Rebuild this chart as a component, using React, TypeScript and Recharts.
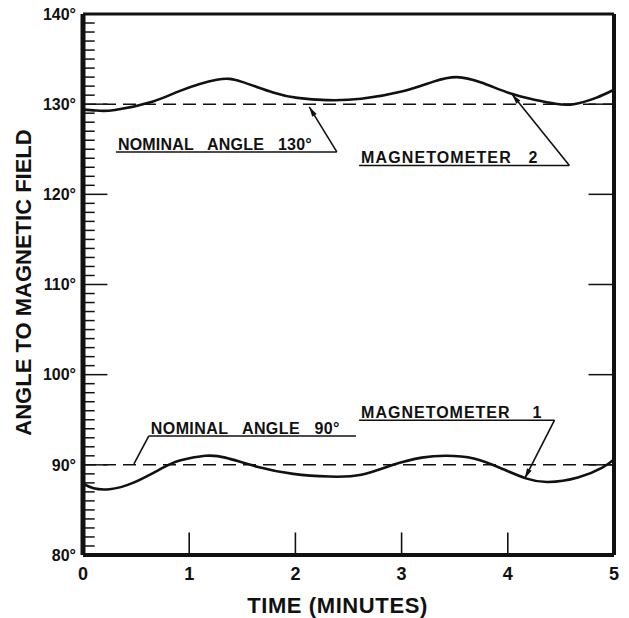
import { LineChart, Line, XAxis, YAxis, ReferenceLine, Label } from 'recharts'

// time in minutes, angle in degrees
const mag2Time = [0, 0.12, 0.3, 0.66, 0.92, 1.26, 1.49, 1.79, 2.02, 2.3, 2.62, 3.0, 3.3, 3.52, 3.75, 4.02, 4.25, 4.45, 4.62, 4.83, 5]
const mag2Angle = [129.4, 129.3, 129.35, 130.3, 131.5, 132.7, 132.5, 131.3, 130.7, 130.45, 130.6, 131.4, 132.5, 133.0, 132.4, 131.2, 130.5, 130.05, 130.0, 130.7, 131.6]

const mag1Time = [0, 0.1, 0.25, 0.47, 0.74, 0.92, 1.15, 1.34, 1.64, 1.98, 2.32, 2.62, 2.92, 3.19, 3.42, 3.68, 3.94, 4.17, 4.38, 4.66, 4.89, 5]
const mag1Angle = [87.9, 87.4, 87.3, 88.0, 89.6, 90.5, 91.0, 90.8, 89.8, 89.0, 88.7, 88.9, 90.0, 90.8, 91.0, 90.7, 89.6, 88.5, 88.1, 88.6, 89.7, 90.6]

const nominalAngles = [130, 90]
const timeTicks = [0, 1, 2, 3, 4, 5]
const innerTimeTicks = [1, 2, 3, 4]
const angleTicks = [80, 90, 100, 110, 120, 130, 140]
const majorInner = [90, 100, 110, 120, 130]
const minorAngles = Array.from({ length: 61 }, (_, i) => 80 + i).filter((a) => a % 10 !== 0)

const mag2Data = mag2Time.map((t, i) => ({ t, angle: mag2Angle[i] }))
const mag1Data = mag1Time.map((t, i) => ({ t, angle: mag1Angle[i] }))

// callouts: underline (with text on it) + leader to the curve
const callouts = [
  { text: 'NOMINAL   ANGLE   130°', from: 0.31, to: 2.39, y: 124.7, tipX: 2.13, tipY: 129.7, start: 'left', arrow: true, ls: 0.2 },
  { text: 'MAGNETOMETER   2', from: 2.6, to: 4.58, y: 123.2, tipX: 4.04, tipY: 131.1, start: 'left', arrow: true, ls: 1.1 },
  { text: 'NOMINAL   ANGLE   90°', from: 0.62, to: 2.57, y: 93.2, tipX: 0.48, tipY: 90.1, start: 'right', arrow: false, ls: 0.4 },
  { text: 'MAGNETOMETER    1', from: 2.6, to: 4.44, y: 94.95, tipX: 4.16, tipY: 88.5, start: 'left', arrow: true, ls: 1.0 },
]

const INK = '#111'
const FONT = '"Liberation Sans", Arial, sans-serif'

const Leader = (arrow: boolean) => (p: any) => {
  const { x1, y1, x2, y2 } = p
  const ang = Math.atan2(y2 - y1, x2 - x1)
  const len = 10
  const half = 2.6
  const bx = x2 - len * Math.cos(ang)
  const by = y2 - len * Math.sin(ang)
  const nx = -Math.sin(ang) * half
  const ny = Math.cos(ang) * half
  return (
    <g>
      <line x1={x1} y1={y1} x2={x2} y2={y2} stroke={INK} strokeWidth={1.6} />
      {arrow && <polygon points={`${x2},${y2} ${bx + nx},${by + ny} ${bx - nx},${by - ny}`} fill={INK} />}
    </g>
  )
}

export default function App() {
  return (
    <div style={{ position: 'absolute', left: 0, top: 0, background: '#fff' }}>
      <LineChart width={629} height={618} margin={{ top: 14, right: 15, bottom: 0, left: 0 }}>
        <XAxis
          type="number"
          dataKey="t"
          domain={[0, 5]}
          ticks={timeTicks}
          allowDataOverflow
          height={63}
          tickLine={false}
          tickSize={6}
          tickMargin={6}
          axisLine={{ stroke: INK, strokeWidth: 4 }}
          tick={{ fill: INK, fontSize: 18, fontWeight: 700, fontFamily: FONT }}
        >
          <Label
            content={(p: any) => (
              <text
                x={p.viewBox.x + p.viewBox.width / 2 - 11}
                y={p.viewBox.y + 58}
                textAnchor="middle"
                fill={INK}
                fontSize={22}
                fontWeight={700}
                fontFamily={FONT}
                letterSpacing={0.6}
              >
                TIME (MINUTES)
              </text>
            )}
          />
        </XAxis>
        <YAxis
          type="number"
          domain={[80, 140]}
          ticks={angleTicks}
          width={83}
          tickLine={false}
          tickSize={6}
          tickMargin={1}
          axisLine={{ stroke: INK, strokeWidth: 5 }}
          tickFormatter={(v: number) => `${v}°`}
          tick={{ fill: INK, fontSize: 16, fontWeight: 700, fontFamily: FONT }}
        >
          <Label
            content={(p: any) => {
              const cx = 23
              const cy = p.viewBox.y + p.viewBox.height / 2 - 2
              return (
                <text
                  x={cx}
                  y={cy}
                  transform={`rotate(-90 ${cx} ${cy})`}
                  textAnchor="middle"
                  dominantBaseline="central"
                  fill={INK}
                  fontSize={22}
                  fontWeight={700}
                  fontFamily={FONT}
                >
                  ANGLE TO MAGNETIC FIELD
                </text>
              )
            }}
          />
        </YAxis>

        {/* frame */}
        <ReferenceLine y={140} stroke={INK} strokeWidth={3} />
        <ReferenceLine x={5} stroke={INK} strokeWidth={4} />

        {/* inner ticks */}
        {minorAngles.map((a) => (
          <ReferenceLine key={`mn${a}`} segment={[{ x: 0, y: a }, { x: 0.11, y: a }]} stroke={INK} strokeWidth={1.5} />
        ))}
        {majorInner.map((a) => (
          <ReferenceLine key={`mjl${a}`} segment={[{ x: 0, y: a }, { x: 0.23, y: a }]} stroke={INK} strokeWidth={1.5} />
        ))}
        {majorInner.map((a) => (
          <ReferenceLine key={`mjr${a}`} segment={[{ x: 4.76, y: a }, { x: 5, y: a }]} stroke={INK} strokeWidth={1.5} />
        ))}
        {innerTimeTicks.map((t) => (
          <ReferenceLine key={`tx${t}`} segment={[{ x: t, y: 80 }, { x: t, y: 82.5 }]} stroke={INK} strokeWidth={1.6} />
        ))}

        {nominalAngles.map((a) => (
          <ReferenceLine key={`nom${a}`} y={a} stroke={INK} strokeWidth={1.5} strokeDasharray="13 7" />
        ))}

        {callouts.map((c) => (
          <ReferenceLine
            key={`u${c.text}`}
            segment={[{ x: c.from, y: c.y }, { x: c.to, y: c.y }]}
            stroke={INK}
            strokeWidth={1.6}
            label={(p: any) => (
              <text
                x={p.viewBox.x + 2}
                y={p.viewBox.y - 2}
                fill={INK}
                fontSize={16}
                fontWeight={700}
                fontFamily={FONT}
                letterSpacing={c.ls}
                style={{ whiteSpace: 'pre' }}
              >
                {c.text}
              </text>
            )}
          />
        ))}
        {callouts.map((c) => (
          <ReferenceLine
            key={`l${c.text}`}
            segment={[{ x: c.start === 'left' ? c.to : c.from, y: c.y }, { x: c.tipX, y: c.tipY }]}
            stroke={INK}
            shape={Leader(c.arrow)}
          />
        ))}

        <Line
          data={mag2Data}
          dataKey="angle"
          type="natural"
          stroke={INK}
          strokeWidth={2.6}
          dot={false}
          isAnimationActive={false}
        />
        <Line
          data={mag1Data}
          dataKey="angle"
          type="natural"
          stroke={INK}
          strokeWidth={2.6}
          dot={false}
          isAnimationActive={false}
        />
      </LineChart>
    </div>
  )
}
